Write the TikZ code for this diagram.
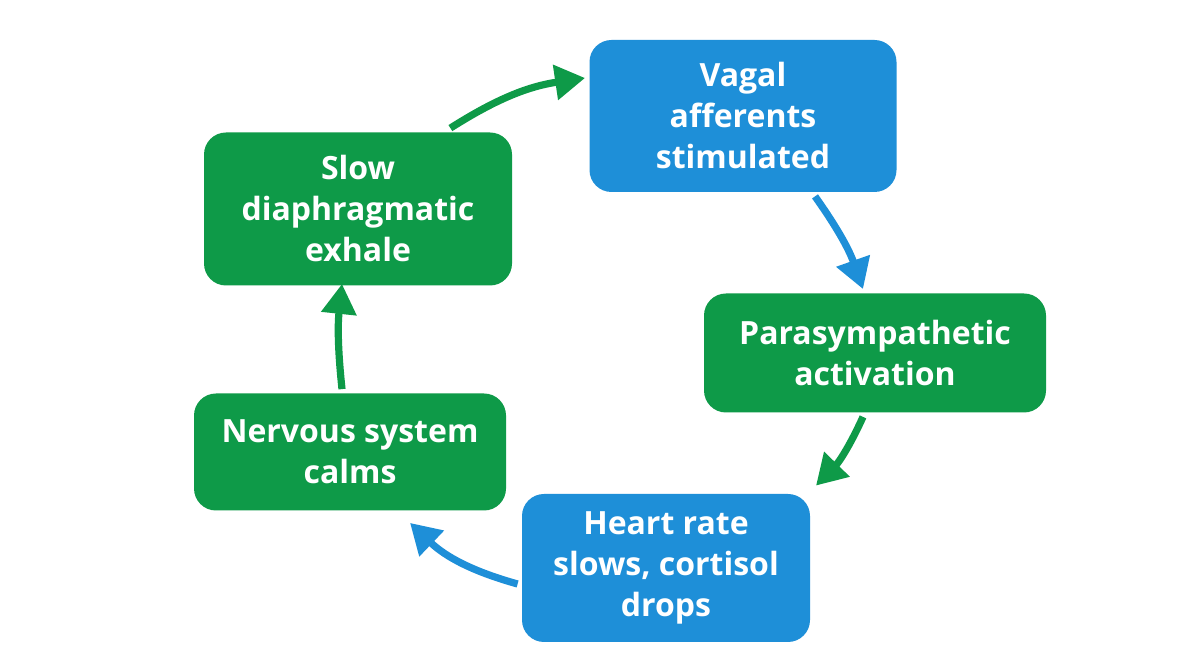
\documentclass[tikz,border=0pt]{standalone}
\usepackage{fontspec}
\setmainfont{Open Sans}
\usetikzlibrary{arrows.meta,calc}
\definecolor{gr}{HTML}{0E9A48}
\definecolor{bl}{HTML}{1E8FD8}
\begin{document}
\begin{tikzpicture}[x=0.5pt,y=-0.5pt,
 box/.style={rounded corners=11pt,text=white,font=\bfseries\fontsize{16}{20.5}\selectfont,align=center,inner sep=0pt},
 arr/.style={line width=3.6pt,-{Triangle[length=15pt,width=17pt]}}]
\useasboundingbox[fill=white] (0,0) rectangle (1204,672);
\node[box,fill=gr,minimum width=154pt,minimum height=76.5pt] (slow) at (358,209) {Slow\\diaphragmatic\\exhale};
\node[box,fill=bl,minimum width=153.5pt,minimum height=76pt] (vag) at (743,116) {Vagal\\afferents\\stimulated};
\node[box,fill=gr,minimum width=171pt,minimum height=59.5pt] (para) at (875,353) {Parasympathetic\\activation};
\node[box,fill=bl,minimum width=144pt,minimum height=74pt] (heart) at (666,568) {Heart rate\\slows, cortisol\\drops};
\node[box,fill=gr,minimum width=156pt,minimum height=58.5pt] (nerv) at (350,452) {Nervous system\\calms};
\draw[arr,gr] ($(slow.north east)+(-62,-4)$) to[bend left=12] ($(vag.west)+(-4,-38)$);
\draw[arr,bl] ($(vag.south)+(72,4)$) to[bend left=8] ($(para.north)+(-12,-4)$);
\draw[arr,gr] ($(para.south)+(-12,4)$) to[bend left=10] ($(heart.north)+(150,-8)$);
\draw[arr,bl] ($(heart.west)+(-4,16)$) to[bend left=14] ($(nerv.south)+(60,12)$);
\draw[arr,gr] ($(nerv.north)+(-8,-4)$) to[bend left=6] ($(slow.south)+(-16,-2)$);
\end{tikzpicture}
\end{document}
